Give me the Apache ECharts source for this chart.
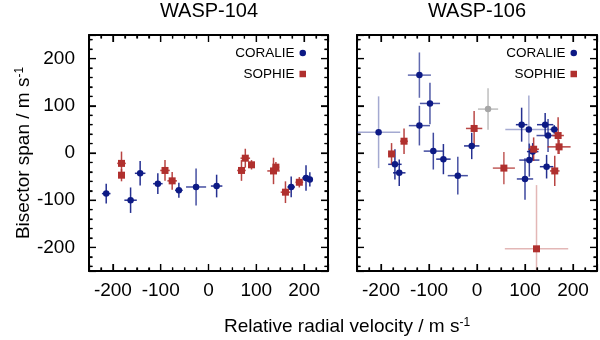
<!DOCTYPE html>
<html>
<head>
<meta charset="utf-8">
<title>WASP-104 / WASP-106 bisector spans</title>
<script src="https://cdn.jsdelivr.net/npm/echarts@6/dist/echarts.min.js"></script>
<style>
  html, body { margin: 0; padding: 0; background: #fff; }
  #chart { width: 600px; height: 340px; }
</style>
</head>
<body>
<div id="chart"></div>
<script>
// each point: [relative RV, bisector span, RV error, bisector error]  (m/s)
const wasp104Coralie = [
  [-214, -86, 9, 21],
  [-163, -100, 13, 27],
  [-143, -43, 11, 26],
  [-106, -65, 10, 22],
  [-62, -79, 8, 16],
  [-26, -72, 21, 39],
  [17, -70, 12, 24],
  [173, -72, 8, 22],
  [204, -53, 8, 27],
  [212, -56, 6, 15]
];
const wasp104Sophie = [
  [-182, -22, 9, 25],
  [-182, -47, 7, 13],
  [-91, -37, 10, 22],
  [-76, -59, 10, 19],
  [69, -37, 9, 22],
  [77, -11, 10, 20],
  [90, -25, 7, 10],
  [136, -38, 13, 28],
  [141, -30, 7, 11],
  [161, -83, 10, 23],
  [190, -62, 8, 11]
];
const wasp106Coralie = [
  [-205, 44, 45, 76],
  [-171, -24, 14, 32],
  [-162, -42, 13, 28],
  [-120, 165, 24, 48],
  [-120, 58, 22, 42],
  [-98, 105, 21, 44],
  [-91, 4, 20, 39],
  [-70, -13, 15, 32],
  [-40, -48, 21, 40],
  [-11, 15, 16, 28],
  [93, 60, 12, 36],
  [108, 50, 49, 72],
  [100, -55, 17, 44],
  [109, -15, 21, 35],
  [116, 3, 12, 18],
  [142, 60, 17, 25],
  [148, 37, 24, 35],
  [161, 50, 8, 9],
  [145, -29, 14, 25]
];
const wasp106Sophie = [
  [-178, -2, 7, 23],
  [-152, 25, 8, 27],
  [-6, 52, 17, 37],
  [56, -32, 23, 34],
  [118, 8, 11, 25],
  [124, -203, 66, 135],
  [169, 37, 12, 39],
  [171, 13, 24, 15],
  [162, -38, 10, 32]
];
// grey point (not used in fit)
const wasp106Excluded = [
  [23, 93, 21, 44]
];

const panelTitles = ['WASP-104', 'WASP-106'];
const majorTicks = [-200, -100, 0, 100, 200];
const axisMin = -250;
const axisMax = 250;

const FONT = 'Liberation Sans';
const BLUE = [13, 26, 133];
const RED = [176, 48, 46];
const GREY = [166, 166, 166];

function rgba(c, a) {
  return 'rgba(' + c[0] + ',' + c[1] + ',' + c[2] + ',' + a + ')';
}

// tick positions inside the frame (majors are multiples of both steps)
function stepTicks(step) {
  const out = [];
  for (let v = Math.ceil((axisMin + 1) / step) * step; v < axisMax; v += step) out.push(v);
  return out;
}
const xTickValues = stepTicks(25);
const yTickValues = stepTicks(20);

// boxed frame, labels only on bottom / left
function frameAxes(dim, grid, withLabels, name) {
  const sides = dim === 'x' ? ['bottom', 'top'] : ['left', 'right'];
  return sides.map(function (side, i) {
    const ax = {
      gridIndex: grid, type: 'value', position: side, min: axisMin, max: axisMax,
      axisLine: { show: true, onZero: false, lineStyle: { color: '#000', width: 2 } },
      axisTick: { show: true, inside: true, length: 7, lineStyle: { color: '#000', width: 1.2 } },
      minorTick: { show: true, splitNumber: dim === 'x' ? 4 : 5, length: 3.5,
        lineStyle: { color: '#000', width: 1.2 } },
      axisLabel: {
        show: withLabels && i === 0,
        margin: dim === 'x' ? 10 : 14, color: '#000', fontSize: 19, fontFamily: FONT,
        formatter: function (v) { return majorTicks.indexOf(v) >= 0 ? String(v) : ''; }
      },
      splitLine: { show: false }
    };
    if (name && i === 0) {
      ax.name = name;
      ax.nameLocation = 'middle';
      ax.nameGap = 56;
      ax.nameRotate = 90;
      ax.nameTextStyle = {
        color: '#000',
        rich: {
          a: { fontSize: 19, fontFamily: FONT, fontWeight: 'normal', color: '#000' },
          b: { fontSize: 12, fontFamily: FONT, fontWeight: 'normal', color: '#000', verticalAlign: 'top', lineHeight: 12 }
        }
      };
    }
    return ax;
  });
}

const xAxes = frameAxes('x', 0, true).concat(frameAxes('x', 1, true));
const yAxes = frameAxes('y', 0, true, '{a|Bisector span / m s}{b|-1}').concat(frameAxes('y', 1, false));

function seg(p, q, style) {
  return { type: 'line', shape: { x1: p[0], y1: p[1], x2: q[0], y2: q[1] }, style: style };
}

// inward ticks on all four sides, ends found through the axis scale
function frameTicks(dim) {
  return function (params, api) {
    const v = dim === 'x' ? api.value(0) : api.value(1);
    const len = majorTicks.indexOf(v) >= 0 ? 7 : 3.5;
    const style = { stroke: '#000', lineWidth: 1.2 };
    if (dim === 'x') {
      const lo = api.coord([v, axisMin]), hi = api.coord([v, axisMax]);
      return { type: 'group', children: [
        seg(lo, [lo[0], lo[1] - len], style),
        seg(hi, [hi[0], hi[1] + len], style)
      ] };
    }
    const lo = api.coord([axisMin, v]), hi = api.coord([axisMax, v]);
    return { type: 'group', children: [
      seg(lo, [lo[0] + len, lo[1]], style),
      seg(hi, [hi[0] - len, hi[1]], style)
    ] };
  };
}

// error bars drawn through the axes' own scale
function errorBars(color) {
  return function (params, api) {
    const x = api.value(0), y = api.value(1), ex = api.value(2), ey = api.value(3);
    // bigger errors are drawn fainter
    const a = Math.max(0.35, Math.min(0.9, 22 / Math.sqrt(ex * ey)));
    const style = { stroke: rgba(color, a), lineWidth: 1.5 };
    return { type: 'group', children: [
      seg(api.coord([x - ex, y]), api.coord([x + ex, y]), style),
      seg(api.coord([x, y - ey]), api.coord([x, y + ey]), style)
    ] };
  };
}

function panelSeries(grid, data, name, color, symbol, size) {
  return [
    {
      type: 'custom', xAxisIndex: grid * 2, yAxisIndex: grid * 2,
      renderItem: errorBars(color), clip: true, z: 1, silent: true,
      encode: { x: 0, y: 1 }, data: data
    },
    {
      type: 'scatter', name: name, xAxisIndex: grid * 2, yAxisIndex: grid * 2,
      symbol: symbol, symbolSize: size, z: 3,
      itemStyle: { color: rgba(color, 1), opacity: 1 },
      encode: { x: 0, y: 1 }, data: data
    }
  ];
}

function tickSeries(grid) {
  return [
    {
      type: 'custom', xAxisIndex: grid * 2, yAxisIndex: grid * 2, silent: true, z: 4, clip: false,
      renderItem: frameTicks('x'), encode: { x: 0, y: 1 },
      data: xTickValues.map(function (v) { return [v, 0]; })
    },
    {
      type: 'custom', xAxisIndex: grid * 2, yAxisIndex: grid * 2, silent: true, z: 4, clip: false,
      renderItem: frameTicks('y'), encode: { x: 0, y: 1 },
      data: yTickValues.map(function (v) { return [0, v]; })
    }
  ];
}

let series = [];
series = series.concat(panelSeries(0, wasp104Coralie, 'CORALIE', BLUE, 'circle', 6.5));
series = series.concat(panelSeries(0, wasp104Sophie, 'SOPHIE', RED, 'rect', 7));
series = series.concat(panelSeries(1, wasp106Coralie, 'CORALIE', BLUE, 'circle', 6.5));
series = series.concat(panelSeries(1, wasp106Sophie, 'SOPHIE', RED, 'rect', 7));
series = series.concat(panelSeries(1, wasp106Excluded, 'excluded', GREY, 'circle', 6.5));
series = series.concat(tickSeries(0), tickSeries(1));

function panelLegend(right) {
  return {
    orient: 'vertical', right: right, top: 46, align: 'right', padding: 0,
    itemWidth: 6.5, itemHeight: 6.5, itemGap: 7,
    data: [{ name: 'CORALIE', icon: 'circle' }, { name: 'SOPHIE', icon: 'rect' }],
    textStyle: { fontSize: 13.5, fontFamily: FONT, color: '#000', lineHeight: 14 }
  };
}

const titleStyle = { fontSize: 20, fontWeight: 'normal', fontFamily: FONT, color: '#000' };

const option = {
  animation: false,
  backgroundColor: '#fff',
  title: [
    { text: panelTitles[0], left: 209, top: 1, textAlign: 'center', padding: 0, textStyle: titleStyle },
    { text: panelTitles[1], left: 477, top: 1, textAlign: 'center', padding: 0, textStyle: titleStyle },
    {
      text: '{a|Relative radial velocity / m s}{b|-1}', left: 347, top: 317, textAlign: 'center', padding: 0,
      textStyle: {
        fontWeight: 'normal',
        rich: {
          a: { fontSize: 19, fontFamily: FONT, fontWeight: 'normal', color: '#000' },
          b: { fontSize: 12, fontFamily: FONT, fontWeight: 'normal', color: '#000', verticalAlign: 'top', lineHeight: 12 }
        }
      }
    }
  ],
  legend: [panelLegend(294), panelLegend(23)],
  grid: [
    { left: 89, top: 35, width: 239, height: 236 },
    { left: 357, top: 35, width: 240, height: 236 }
  ],
  xAxis: xAxes,
  yAxis: yAxes,
  series: series
};

const chart = echarts.init(document.getElementById('chart'));
chart.setOption(option);
</script>
</body>
</html>
